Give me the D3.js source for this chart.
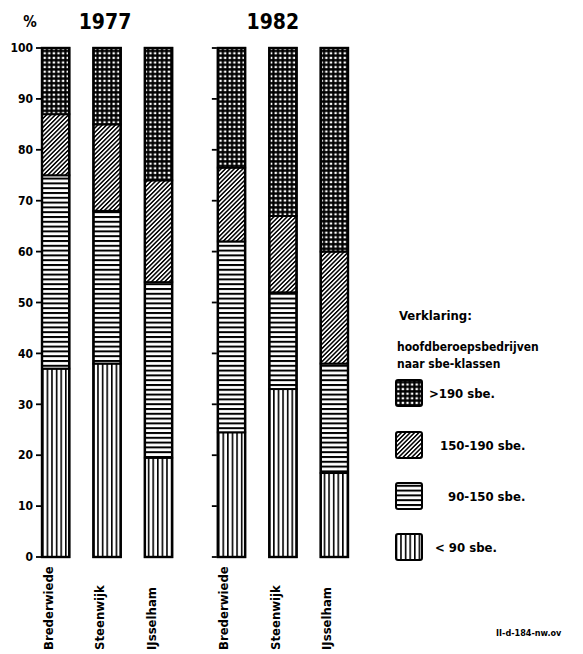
<!DOCTYPE html>
<html>
<head>
<meta charset="utf-8">
<script src="https://cdn.jsdelivr.net/npm/d3@7"></script>
<style>
  body { margin: 0; background: #fff; }
  svg text { font-family: 'DejaVu Sans Condensed', 'DejaVu Sans', sans-serif; font-stretch: condensed; font-weight: bold; fill: #000; }
</style>
</head>
<body>
<svg width="583" height="654"></svg>
<script>
// chart data (percent of hoofdberoepsbedrijven per sbe class)
const years = ['1977', '1982'];
const regions = ['Brederwiede', 'Steenwijk', 'IJsselham'];
const classes = ['lt90', '90-150', '150-190', 'gt190'];  // bottom to top
const classLabels = ['< 90 sbe.', '90-150 sbe.', '150-190 sbe.', '>190 sbe.'];
const values1977 = [
  [37, 38, 12, 13],     // Brederwiede
  [38, 30, 17, 15],     // Steenwijk
  [19.5, 34.5, 20, 26]  // IJsselham
];
const values1982 = [
  [24.5, 37.5, 14.5, 23.5],
  [33, 19, 15, 33],
  [16.5, 21.5, 22, 40]
];
const yTicks = [0, 10, 20, 30, 40, 50, 60, 70, 80, 90, 100];

const svg = d3.select('svg');
const defs = svg.append('defs');

// hatch patterns, one per class
function makePattern(id, size, draw, transform) {
  const p = defs.append('pattern')
    .attr('id', id)
    .attr('patternUnits', 'userSpaceOnUse')
    .attr('width', size)
    .attr('height', size);
  if (transform) p.attr('patternTransform', transform);
  draw(p, size);
}
makePattern('p-lt90', 4.6, (p, s) => {
  p.append('rect').attr('width', s).attr('height', s).attr('fill', '#fff');
  p.append('rect').attr('x', 0).attr('width', 1.6).attr('height', s).attr('fill', '#000');
});
makePattern('p-90-150', 4.8, (p, s) => {
  p.append('rect').attr('width', s).attr('height', s).attr('fill', '#fff');
  p.append('rect').attr('y', 0).attr('width', s).attr('height', 2).attr('fill', '#000');
});
// diagonal "/" lines: vertical stripes turned 45 degrees
makePattern('p-150-190', 3.1, (p, s) => {
  p.append('rect').attr('width', s).attr('height', s).attr('fill', '#fff');
  p.append('rect').attr('width', 1.5).attr('height', s).attr('fill', '#000');
}, 'rotate(45)');
makePattern('p-gt190', 4.6, (p, s) => {
  p.append('rect').attr('width', s).attr('height', s).attr('fill', '#000');
  p.append('rect').attr('x', 1.5).attr('y', 1.6).attr('width', 2.4).attr('height', 2.2).attr('fill', '#fff');
});

const y = d3.scaleLinear().domain([0, 100]).range([557, 48]);
const xYear = d3.scaleBand().domain(years).range([42, 348]).paddingInner(0.26);
const xRegion = d3.scaleBand().domain(regions).range([0, xYear.bandwidth()]).paddingInner(0.47);

const dataByYear = { '1977': values1977, '1982': values1982 };

years.forEach((year) => {
  const g = svg.append('g').attr('transform', `translate(${xYear(year)},0)`);

  regions.forEach((region, i) => {
    const stack = d3.cumsum(dataByYear[year][i]);
    const segs = classes.map((c, k) => ({
      cls: c,
      y0: k === 0 ? 0 : stack[k - 1],
      y1: k === classes.length - 1 ? 100 : stack[k]
    }));

    const bar = g.append('g');
    bar.selectAll('rect')
      .data(segs)
      .join('rect')
        .attr('x', xRegion(region))
        .attr('width', xRegion.bandwidth())
        .attr('y', (d) => y(d.y1))
        .attr('height', (d) => y(d.y0) - y(d.y1))
        .attr('fill', (d) => `url(#p-${d.cls})`)
        .attr('stroke', '#000')
        .attr('stroke-width', 2);

    bar.append('rect')
      .attr('x', xRegion(region))
      .attr('width', xRegion.bandwidth())
      .attr('y', y(100))
      .attr('height', y(0) - y(100))
      .attr('fill', 'none')
      .attr('stroke', '#000')
      .attr('stroke-width', 2.4);

    // rotated category label
    g.append('text')
      .attr('transform', `translate(${xRegion(region) + xRegion.bandwidth() / 2 - 3},650) rotate(-90)`)
      .attr('font-size', 13)
      .attr('text-anchor', 'start')
      .text(region);
  });

  // axis ticks along the left edge of each year group
  const axis = g.append('g').attr('transform', `translate(${xRegion(regions[0]) - 1},0)`);
  axis.selectAll('line')
    .data(yTicks)
    .join('line')
      .attr('x1', -5).attr('x2', 0)
      .attr('y1', (d) => y(d)).attr('y2', (d) => y(d))
      .attr('stroke', '#000').attr('stroke-width', 1.8);

  if (year === '1977') {
    axis.selectAll('text')
      .data(yTicks)
      .join('text')
        .attr('x', -8)
        .attr('y', (d) => y(d))
        .attr('dy', '0.35em')
        .attr('text-anchor', 'end')
        .attr('font-size', 12)
        .text((d) => d);
  }

  svg.append('text')
    .attr('x', xYear(year) + (year === '1977' ? 63 : 55))
    .attr('y', 29)
    .attr('text-anchor', 'middle')
    .attr('font-size', 21)
    .text(year);
});

svg.append('text')
  .attr('x', 30).attr('y', 27)
  .attr('text-anchor', 'middle')
  .attr('font-size', 15)
  .text('%');

// legend
const legend = svg.append('g');
legend.append('text').attr('x', 399).attr('y', 320).attr('font-size', 13).text('Verklaring:');
legend.append('text').attr('x', 397).attr('y', 351).attr('font-size', 12).text('hoofdberoepsbedrijven');
legend.append('text').attr('x', 397).attr('y', 368).attr('font-size', 12).text('naar sbe-klassen');

const legendItems = classes.map((c, k) => ({ cls: c, label: classLabels[k] })).reverse();
const legendY = [380, 432, 483, 534];
const legendTextX = [429, 440, 448, 435];

legend.selectAll('rect.key')
  .data(legendItems)
  .join('rect')
    .attr('class', 'key')
    .attr('x', 396)
    .attr('y', (d, i) => legendY[i])
    .attr('width', 26)
    .attr('height', 26)
    .attr('rx', 2)
    .attr('fill', (d) => `url(#p-${d.cls})`)
    .attr('stroke', '#000')
    .attr('stroke-width', 2);

legend.selectAll('text.lbl')
  .data(legendItems)
  .join('text')
    .attr('class', 'lbl')
    .attr('x', (d, i) => legendTextX[i])
    .attr('y', (d, i) => legendY[i] + 18)
    .attr('font-size', 13)
    .text((d) => d.label);

svg.append('text')
  .attr('x', 496).attr('y', 636)
  .attr('font-size', 9)
  .text('II-d-184-nw.ov');
</script>
</body>
</html>
